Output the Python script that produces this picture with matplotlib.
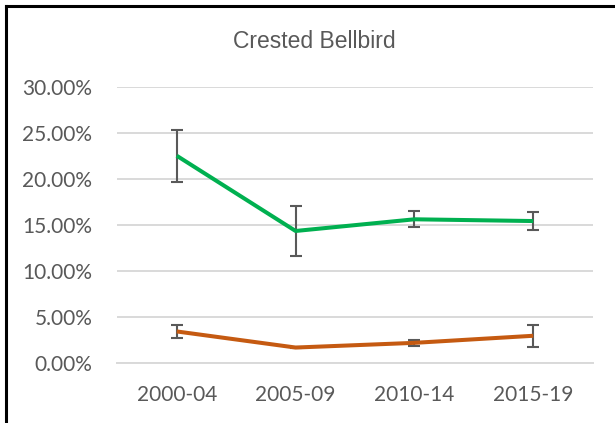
import numpy as np
import matplotlib.pyplot as plt
from matplotlib.lines import Line2D
from matplotlib.ticker import FuncFormatter

periods = ['2000-04', '2005-09', '2010-14', '2015-19']
green_vals = [22.53, 14.35, 15.62, 15.43]
green_err = [2.85, 2.67, 0.85, 1.00]
orange_vals = [3.43, 1.68, 2.19, 2.96]
orange_err = [0.70, 0.05, 0.36, 1.17]

x = np.arange(len(periods))

fig = plt.figure(figsize=(6.15, 4.23), dpi=100)
ax = fig.add_axes([117.3 / 615, 60 / 423, 475.4 / 615, 276 / 423])

grey = '#595959'
for vals, err, col in [(green_vals, green_err, '#00B050'),
                       (orange_vals, orange_err, '#C55A11')]:
    ax.errorbar(x, vals, yerr=err, fmt='none', ecolor=grey,
                elinewidth=1.5, capsize=4.3, capthick=1.5, zorder=3)
    ax.plot(x, vals, color=col, lw=2.9, solid_capstyle='butt', zorder=4)

ax.set_xlim(-0.5, 3.5)
ax.set_ylim(0, 30)
ax.set_yticks(np.arange(0, 31, 5))
ax.yaxis.set_major_formatter(FuncFormatter(lambda v, p: f'{v:.2f}%'))
ax.set_xticks(x)
ax.set_xticklabels(periods)
ax.grid(axis='y', color='#D9D9D9', lw=1.4, zorder=0)
ax.set_axisbelow(True)
for s in ax.spines.values():
    s.set_visible(False)
ax.spines['bottom'].set_visible(True)
ax.spines['bottom'].set_color('#D9D9D9')
ax.spines['bottom'].set_linewidth(1.4)
ax.tick_params(length=0, colors=grey, labelsize=15)
ax.tick_params(axis='y', pad=18)
ax.tick_params(axis='x', pad=16)
for lab in ax.get_xticklabels() + ax.get_yticklabels():
    lab.set_family('Lato')

fig.text(314.5 / 615, 1 - 42 / 423, 'Crested Bellbird', ha='center',
         va='center', fontsize=16.5, color=grey, family='Liberation Sans')

# black frame on the top and left edges
top = 1 - 6 / 423
left = 5.5 / 615
fig.add_artist(Line2D([left, 1.0], [top, top], transform=fig.transFigure,
                      color='black', lw=2.2, solid_capstyle='projecting'))
fig.add_artist(Line2D([left, left], [0, top], transform=fig.transFigure,
                      color='black', lw=2.2, solid_capstyle='projecting'))

fig.savefig('out.png', dpi=100)
